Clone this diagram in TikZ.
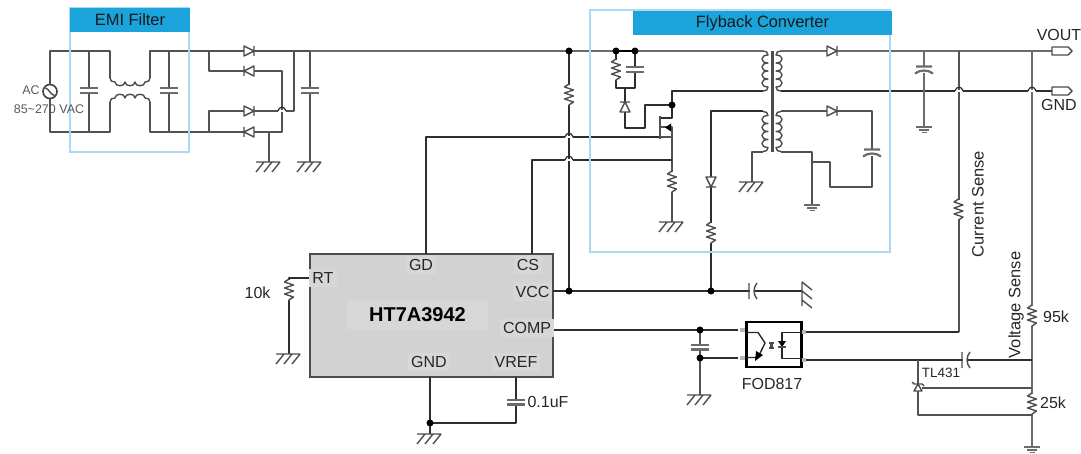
\documentclass[tikz,border=0pt]{standalone}
\usepackage{fontspec}
\setmainfont{Liberation Sans}
\definecolor{headc}{HTML}{1BA3DC}
\definecolor{framec}{HTML}{ABD8F2}
\definecolor{icfill}{HTML}{D2D2D2}
\definecolor{patchc}{HTML}{D7D7D7}
\newcommand{\fs}[1]{\fontsize{#1}{#1}\selectfont}
\tikzset{
  wire/.style={draw=black!68,line width=1.8pt,line join=round},
  lwire/.style={draw=black!82,line width=1.25pt,line join=round},
  gwire/.style={draw=black!58,line width=2.2pt},
  part/.style={draw=black!70,line width=1.4pt,line join=round},
  dot/.style={circle,fill=black,inner sep=0pt,minimum size=7pt},
  frame/.style={draw=framec,line width=1.5pt},
  head/.style={fill=headc,inner sep=0pt,text=black!90,font=\fs{16.4}},
  txt/.style={inner sep=0pt,text=black!85,font=\fs{16}},
  pinl/.style={fill=patchc,inner sep=3pt,text=black!85,font=\fs{16}},
  resv/.pic={\fill[white] (-5,-10) rectangle (5,10);
    \draw[part] (0,-11)--(-4.5,-8)--(4.5,-5)--(-4.5,-2)--(4.5,1)--(-4.5,4)--(4.5,7)--(0,10)--(0,11);},
  capv/.pic={\fill[white] (-9,-2) rectangle (9,2);
    \draw[gwire] (-9,-2.4)--(9,-2.4) (-9,2.4)--(9,2.4);},
  capvc/.pic={\fill[white] (-9,-2) rectangle (9,4);
    \draw[gwire] (-8,-2.5)--(8,-2.5) (-9,4.5) .. controls (-4,0.5) and (4,0.5) .. (9,4.5);},
  caph/.pic={\fill[white] (-2,-8) rectangle (3,8);
    \draw[part] (-3,-8)--(-3,8) (5,-8) .. controls (1,-3) and (1,3) .. (5,8);},
  hash/.pic={\draw[part] (-13,0)--(11,0) (-5,0)--(-13,10) (3,0)--(-5,10) (11,0)--(3,10);},
  hashr/.pic={\draw[part] (0,-9)--(0,15) (0,-9)--(10,-1) (0,0)--(10,8) (0,9)--(10,17);},
  earth/.pic={\draw[gwire,line width=1.8pt] (-8,0)--(8,0) (-5,3)--(5,3) (-2.5,5.5)--(2.5,5.5);},
  dior/.pic={\fill[white] (-5,-5) rectangle (5,5);
    \draw[part,fill=white] (-5,-5)--(5,0)--(-5,5)--cycle (5,-5)--(5,5);},
  diol/.pic={\fill[white] (-5,-5) rectangle (5,5);
    \draw[part,fill=white] (5,-5)--(-5,0)--(5,5)--cycle (-5,-5)--(-5,5);},
  diou/.pic={\fill[white] (-5,-5) rectangle (5,5);
    \draw[part,fill=white] (-5,5)--(0,-5)--(5,5)--cycle (-5,-5)--(5,-5);},
  diod/.pic={\fill[white] (-5,-5) rectangle (5,5);
    \draw[part,fill=white] (-5,-5)--(0,5)--(5,-5)--cycle (-5,5)--(5,5);},
  coill/.pic={\draw[part] (-4,-20) .. controls (-1,-20) and (1,-19) .. (1,-16)
    .. controls (-7,-16) and (-7,-8) .. (1,-8) .. controls (-7,-8) and (-7,0) .. (1,0)
    .. controls (-7,0) and (-7,8) .. (1,8) .. controls (-7,8) and (-7,16) .. (1,16)
    .. controls (1,19) and (-1,20) .. (-4,20);},
  coilr/.pic={\draw[part] (4,-20) .. controls (1,-20) and (-1,-19) .. (-1,-16)
    .. controls (7,-16) and (7,-8) .. (-1,-8) .. controls (7,-8) and (7,0) .. (-1,0)
    .. controls (7,0) and (7,8) .. (-1,8) .. controls (7,8) and (7,16) .. (-1,16)
    .. controls (-1,19) and (1,20) .. (4,20);},
  coild/.pic={\draw[part] (-20,-4) .. controls (-20,-1) and (-18,0) .. (-15,0)
    .. controls (-15,5) and (-5,5) .. (-5,0) .. controls (-5,5) and (5,5) .. (5,0)
    .. controls (5,5) and (15,5) .. (15,0) .. controls (18,0) and (20,-1) .. (20,-4);},
  coilu/.pic={\draw[part] (-20,4) .. controls (-20,1) and (-18,0) .. (-15,0)
    .. controls (-15,-5) and (-5,-5) .. (-5,0) .. controls (-5,-5) and (5,-5) .. (5,0)
    .. controls (5,-5) and (15,-5) .. (15,0) .. controls (18,0) and (20,1) .. (20,4);},
  hop/.pic={\fill[white] (-4,-1) rectangle (4,1);
    \draw[lwire] (-4,0) .. controls (-3,-5) and (3,-5) .. (4,0);},
  term/.pic={\draw[part,fill=white] (0,-4)--(16,-4)--(20,0)--(16,4)--(0,4)--cycle;},
  x=1pt,y=-1pt
}
\begin{document}
\begin{tikzpicture}
\useasboundingbox (0,0) rectangle (1081,454);
% named junctions
\coordinate (acT) at (50,51); \coordinate (acB) at (50,132);
\coordinate (lT) at (110,51); \coordinate (lTc) at (110,78);
\coordinate (lB) at (110,132); \coordinate (lBc) at (110,102);
\coordinate (rT) at (150,51); \coordinate (rTc) at (150,78);
\coordinate (rB) at (150,132); \coordinate (rBc) at (150,102);
\coordinate (c1T) at (89,51); \coordinate (c1B) at (89,132);
\coordinate (c2T) at (169,51); \coordinate (c2B) at (169,132);
\coordinate (brT) at (209,51); \coordinate (brU) at (209,71);
\coordinate (brL) at (209,111); \coordinate (brB) at (209,132);
\coordinate (brR) at (282,71); \coordinate (brRb) at (282,132);
\coordinate (outT) at (294,51); \coordinate (outB) at (294,111);
\coordinate (g1T) at (269,132); \coordinate (g1) at (269,162);
\coordinate (c3T) at (310,51); \coordinate (g2) at (310,162);
\coordinate (vT) at (1052,51); \coordinate (gT) at (1052,91);
\coordinate (n569) at (569,51); \coordinate (n569b) at (569,291);
\coordinate (n616) at (616,51); \coordinate (n635) at (635,51);
\coordinate (sn616) at (616,88); \coordinate (sn635) at (635,88);
\coordinate (sn625) at (625,88); \coordinate (sn625b) at (625,128);
\coordinate (sn645b) at (645,128); \coordinate (sn645) at (645,105);
\coordinate (dr) at (672,105); \coordinate (drT) at (672,91);
\coordinate (drc) at (672,118); \coordinate (src) at (672,127);
\coordinate (cs) at (672,160); \coordinate (g3) at (672,222);
\coordinate (pT) at (763,51); \coordinate (pB) at (763,91);
\coordinate (aT) at (763,111); \coordinate (aB) at (763,152);
\coordinate (sT) at (781,51); \coordinate (sB) at (781,91);
\coordinate (bT) at (781,111); \coordinate (bB) at (781,152);
\coordinate (x711T) at (711,111); \coordinate (x711) at (711,291);
\coordinate (g4T) at (752,152); \coordinate (g4) at (752,182);
\coordinate (x872T) at (872,111); \coordinate (x872B) at (872,187);
\coordinate (x830B) at (830,187); \coordinate (x830T) at (830,162);
\coordinate (x812m) at (812,162); \coordinate (x812T) at (812,152); \coordinate (e1) at (812,205);
\coordinate (c924T) at (924,51); \coordinate (e2) at (924,127);
\coordinate (cs958T) at (959,51); \coordinate (cs958B) at (959,332);
\coordinate (vs1032T) at (1032,51); \coordinate (e3) at (1032,447);
\coordinate (n1032a) at (1032,360); \coordinate (n1032b) at (1032,388); \coordinate (n1032c) at (1032,415);
\coordinate (tlT) at (918,360); \coordinate (tlB) at (918,415); \coordinate (tlR) at (922,388);
\coordinate (g5) at (802,291);
\coordinate (optIn) at (738,330); \coordinate (optG) at (738,358);
\coordinate (n700) at (700,330); \coordinate (n700b) at (700,358); \coordinate (g6) at (700,395);
\coordinate (optA) at (806,332); \coordinate (optC) at (806,360);
\coordinate (hashRT) at (289,354); \coordinate (n430) at (430,423);
\coordinate (hashGND) at (430,434); \coordinate (n516) at (516,423);
\coordinate (gate) at (660,137); \coordinate (gateS) at (672,137);

% IC
\node[draw=black!70,fill=icfill,line width=1.5pt,minimum width=243pt,minimum height=123pt,inner sep=0pt] (ic) at (431.5,315.5) {};
\coordinate (pRT) at (310,278); \coordinate (pRTc) at (289,278);
\coordinate (pGD) at (426,254); \coordinate (pCS) at (532,254);
\coordinate (pVCC) at (553,291); \coordinate (pCOMP) at (553,330);
\coordinate (pGND) at (430,377); \coordinate (pREF) at (516,377);

% wires
\draw[wire] (c1T)--(acT)--(acB)--(c1B)--(lB)--(lBc);
\draw[wire] (c1T)--(lT)--(lTc);
\draw[wire] (rTc)--(rT)--(c2T)--(brT)--(outT)--(outB)--(brL)--(brB);
\draw[wire] (rBc)--(rB)--(c2B)--(brB)--(g1T);
\draw[wire] (c1T)--(c1B) (c2T)--(c2B);
\draw[wire] (brT)--(brU)--(brR)--(brRb)--(g1T)--(g1);
\draw[wire] (outT)--(c3T)--(g2);
\draw[gwire] (c3T)--(n569)--(n616)--(n635)--(pT);
\draw[gwire] (sT)--(vT);
\draw[wire,draw=black] (n616)--(n635);
\draw[lwire] (n569)--(n569b);
\draw[lwire] (n616)--(sn616)--(sn635)--(n635);
\draw[lwire] (sn625)--(sn625b)--(sn645b)--(sn645)--(dr);
\draw[lwire] (pB)--(drT|-pB)--(drT)--(dr)--(drc)--(660,118);
\draw[wire] (660,127)--(src)--(cs)--(g3);
\draw[lwire] (pGD)--(426,137)--(gate);
\draw[wire] (gate)--(gateS);
\draw[lwire] (pCS)--(532,160)--(cs);
\draw[lwire] (sB)--(gT);
\draw[lwire] (aT)--(x711T)--(x711);
\draw[wire] (aB)--(g4T)--(g4);
\draw[wire] (bT)--(x872T)--(x872B)--(x830B)--(x830T)--(x812m);
\draw[wire] (bB)--(x812T)--(e1);
\draw[gwire] (c924T)--(e2);
\draw[wire] (cs958T)--(cs958B);
\draw[lwire] (cs958B)--(optA);
\draw[gwire] (vs1032T)--(e3);
\draw[lwire] (pVCC)--(g5);
\draw[lwire] (pCOMP)--(optIn);
\draw[lwire] (n700b)--(optG);
\draw[wire] (n700)--(g6);
\draw[lwire] (optC)--(n1032a);
\draw[wire] (tlR)--(n1032b);
\draw[wire] (tlT)--(tlB)--(n1032c);
\draw[lwire] (pRT)--(pRTc)--(hashRT);
\draw[lwire] (pGND)--(n430)--(hashGND);
\draw[lwire] (n430)--(n516)--(pREF);

% hops
\pic at (569,137) {hop}; \pic at (569,160) {hop};
\pic at (959,91) {hop}; \pic at (1032,91) {hop};
\pic at (282,111) {hop};

% components
\pic at (89,90.5) {capv}; \pic at (169,90.5) {capv}; \pic at (310,90.5) {capv};
\pic at (130,82) {coild}; \pic at (130,98) {coilu};
\pic at (249,51) {dior}; \pic at (249,71) {diol}; \pic at (249,111) {dior}; \pic at (249,132) {diol};
\pic at (569,95) {resv}; \pic at (616,70) {resv}; \pic at (635,69.5) {capv};
\pic at (625,107) {diou};
\pic at (672,182) {resv}; \pic at (711,182) {diod}; \pic at (711,233) {resv};
\pic at (767,71) {coill}; \pic at (777,71) {coilr};
\pic at (767,131.5) {coill}; \pic at (777,131.5) {coilr};
\fill[black!70] (770.5,51) rectangle (774,152);
\pic at (832,51) {dior}; \pic at (832,111) {dior};
\pic at (872,152) {capvc}; \pic at (924,69) {capvc};
\pic at (958.5,210) {resv}; \pic at (1032,316) {resv}; \pic at (1032,404) {resv};
\pic at (289,290) {resv}; \pic at (516,402) {capv};
\pic at (752,291) {caph}; \pic at (965,360) {caph};
\pic at (700,347) {capv};
\pic at (g1) {hash}; \pic at (g2) {hash}; \pic at (g3) {hash}; \pic at (g4) {hash};
\pic at (g6) {hash}; \pic at (hashRT) {hash}; \pic at (hashGND) {hash};
\pic at (g5) {hashr};
\pic at (e1) {earth}; \pic at (e2) {earth}; \pic at (e3) {earth};
\pic at (vT) {term}; \pic at (gT) {term};

% MOSFET
\draw[wire] (660,116)--(660,139);

\fill[black] (665,127.5)--(671,123.5)--(671,131.5)--cycle;

% AC source
\node[draw=black!75,fill=white,line width=1.6pt,circle,minimum size=14pt,inner sep=0pt] (ac) at (50,91.5) {};
\draw[part] (45.5,88) .. controls (48,88) and (48,91) .. (50,92) .. controls (52,93) and (52,96) .. (54.5,95.5);

% TL431
\draw[part,fill=white] (918,384)--(914,391)--(922,391)--cycle;
\draw[part] (912,382)--(914,384)--(922,384)--(924,386);

% optocoupler
\node[draw=black,line width=2.6pt,minimum width=55pt,minimum height=45pt,inner sep=0pt] (opt) at (774,344.5) {};
\draw[gray!55,line width=4pt] (740,330)--(745,330) (740,358)--(745,358) (802,332)--(806,332) (802,360)--(806,360);
\draw[part,draw=black!85] (746,332.5)--(758,332.5)--(765,343)--(758,357.5)--(746,357.5);
\fill[black] (755,361)--(756,351)--(763,355)--cycle;
\draw[part] (769,343)--(774,343) (769,348)--(774,348) (770,345)--(773,345) (770,346)--(773,346);
\draw[part,draw=black!85] (802,332.5)--(782,332.5)--(782,358.5)--(802,358.5);
\fill[black] (778,341)--(786,341)--(782,347)--cycle;
\draw[part] (778,347)--(786,347);

% dots
\foreach \p in {n569,n616,n635,dr,n569b,x711,n700,n700b,n430}
  \node[dot] at (\p) {};

% frames and headers
\draw[frame] (70,8) rectangle (189,152);
\draw[frame] (590,10) rectangle (890,252);
\node[head,minimum width=120pt,minimum height=24pt] (hemi) at (130,20) {EMI Filter};
\node[head,minimum width=259pt,minimum height=24pt] (hfly) at (762.5,23) {Flyback Converter};

% texts
\node[inner sep=0pt,text=black!65,font=\fs{12.5}] (tac) at (31,90) {AC};
\node[inner sep=0pt,text=black!65,font=\fs{12.5}] (tvac) at (49,109) {85\textasciitilde270 VAC};
\node[pinl] (tgd) at (421,265) {GD};
\node[pinl] (tcs) at (528,265) {CS};
\node[pinl] (tvcc) at (532.5,292) {VCC};
\node[pinl] (tcomp) at (527,328) {COMP};
\node[pinl] (trt) at (323,278) {RT};
\node[pinl] (tgnd) at (429,362) {GND};
\node[pinl] (tvref) at (516,362) {VREF};
\node[fill=patchc,inner sep=0pt,minimum width=141pt,minimum height=30pt,text=black,font=\fs{20}\bfseries] (tic) at (417.5,314.5) {HT7A3942};
\node[txt] (t10k) at (257.5,293) {10k};
\node[txt] (t01) at (548,402) {0.1uF};
\node[txt] (tfod) at (772,384) {FOD817};
\node[txt,font=\fs{13.5}] (ttl) at (941,373) {TL431};
\node[txt] (t95) at (1056,317) {95k};
\node[txt] (t25) at (1053,403) {25k};
\node[txt] (tvout) at (1059,35) {VOUT};
\node[txt] (tgndo) at (1059,105) {GND};
\node[txt,font=\fs{16.5},rotate=90] (tcur) at (978,204) {Current Sense};
\node[txt,font=\fs{16.5},rotate=90] (tvol) at (1016,305) {Voltage Sense};
\end{tikzpicture}
\end{document}
